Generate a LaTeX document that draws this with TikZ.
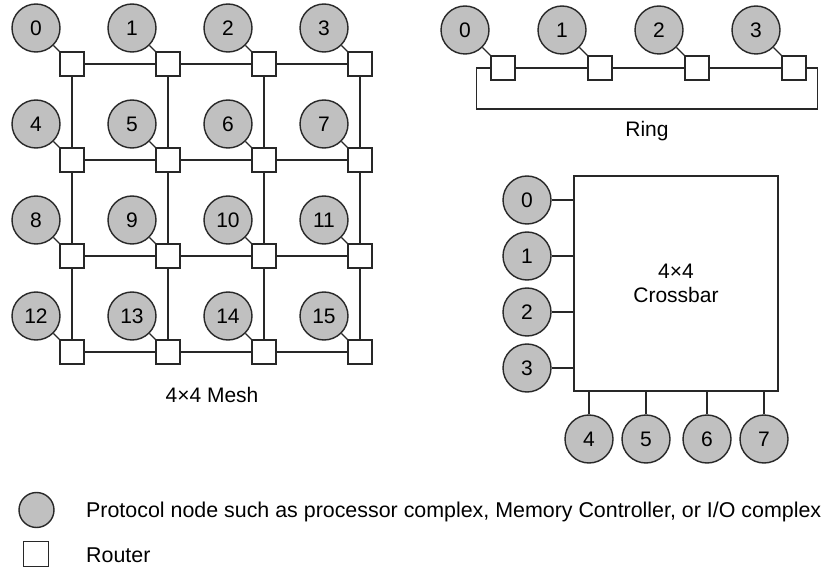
\documentclass[tikz,border=0pt]{standalone}
\usepackage{fontspec}
\setmainfont{Liberation Sans}
\usetikzlibrary{positioning}
\definecolor{pgray}{RGB}{192,192,192}
\definecolor{linegray}{RGB}{40,40,40}

\begin{document}
\begin{tikzpicture}[
  x=1pt, y=-1pt,
  line width=1.4pt, draw=linegray,
  font=\fontsize{21}{24}\selectfont,
  pnode/.style={draw=linegray, circle, fill=pgray, minimum size=48pt, inner sep=0pt, font=\fontsize{21}{24}\selectfont},
  router/.style={draw=linegray, rectangle, fill=white, minimum size=24pt, inner sep=0pt},
  link/.style={draw=linegray},
  caption/.style={anchor=base, inner sep=0pt}
]
\useasboundingbox (0,0) rectangle (823,567);

% 4x4 mesh
\foreach \i in {0,...,15} {
  \pgfmathtruncatemacro\col{mod(\i,4)}
  \pgfmathtruncatemacro\row{(\i-\col)/4}
  \node[router] (mr-\i) at (72+96*\col, 64+96*\row) {};
  \node[pnode] (mc-\i) at (36+96*\col, 28+96*\row) {\i};
  \draw[link] (mc-\i.-45) -- (mr-\i.north west);
}
\foreach \r in {0,...,3} {
  \foreach \c in {0,1,2} {
    \pgfmathtruncatemacro\a{4*\r+\c}
    \pgfmathtruncatemacro\b{\a+1}
    \draw[link] (mr-\a) -- (mr-\b);
  }
}
\foreach \a in {0,...,11} {
  \pgfmathtruncatemacro\b{\a+4}
  \draw[link] (mr-\a) -- (mr-\b);
}
\node[caption] (meshcap) at (212,402) {4×4 Mesh};

% ring
\foreach \i in {0,...,3} {
  \node[router] (rr-\i) at (503+97*\i, 68) {};
  \node[pnode] (rc-\i) at (465+97*\i, 30) {\i};
  \draw[link] (rc-\i.-45) -- (rr-\i.north west);
}
\draw[link] (rr-0) -- (rr-1) -- (rr-2) -- (rr-3);
\draw[link] (rr-0.west) -- ++(-14,0) -- ++(0,41) -| ([xshift=11pt]rr-3.east) -- (rr-3.east);
\node[caption] (ringcap) at (647,137) {Ring};

% crossbar
\node[draw=linegray, fill=white, minimum width=204pt, minimum height=215pt, align=center] (xbar) at (676,283.5) {4×4\\Crossbar};
\foreach \i in {0,...,3} {
  \node[pnode] (xc-\i) at (527, 200+56*\i) {\i};
  \draw[link] (xc-\i) -- (xc-\i -| xbar.west);
}
\foreach \i/\x in {4/589, 5/646, 6/707, 7/764} {
  \node[pnode] (xc-\i) at (\x, 439) {\i};
  \draw[link] (xc-\i) -- (xc-\i |- xbar.south);
}

% legend
\node[pnode, minimum size=35pt] (legnode) at (36.5,510) {};
\node[router, minimum size=25pt] (legrouter) at (36,554) {};
\node[caption, anchor=base west, font=\fontsize{21.4}{24}\selectfont] (legnodetext) at (85.5,517) {Protocol node such as processor complex, Memory Controller, or I/O complex};
\node[caption, anchor=base west, font=\fontsize{21.4}{24}\selectfont] (legroutertext) at (85.5,562) {Router};

\end{tikzpicture}
\end{document}
